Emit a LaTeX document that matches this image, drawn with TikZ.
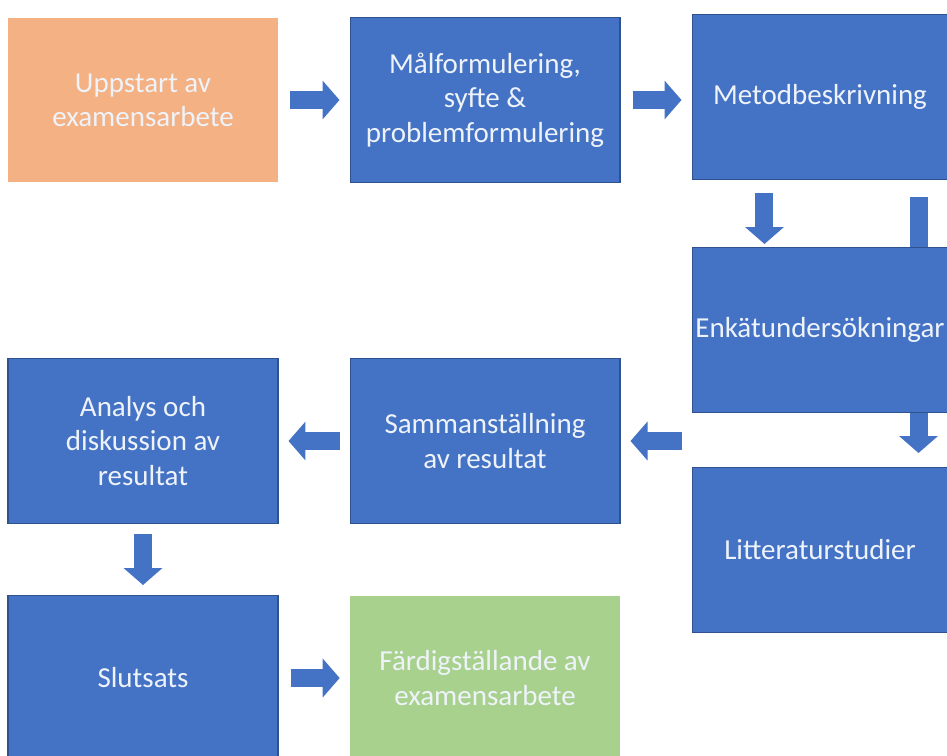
\documentclass[tikz,border=0pt]{standalone}
\usepackage{fontspec}
\setmainfont{Carlito}
\usetikzlibrary{arrows.meta}
\definecolor{boxblue}{HTML}{4472C4}
\definecolor{boxedge}{HTML}{2F528F}
\definecolor{startorange}{HTML}{F4B183}
\definecolor{endgreen}{HTML}{A9D18E}
\definecolor{boxtext}{HTML}{EEF3FA}

\begin{document}
\begin{tikzpicture}[
  x=0.02cm, y=-0.02cm,
  box/.style = {rectangle, minimum width=5.4cm, minimum height=3.3cm, align=center, inner sep=0pt,
                text=boxtext, font=\fontsize{16.5}{19.5}\selectfont},
  bluebox/.style = {box, fill=boxblue, draw=boxedge, line width=0.6pt},
  sidebox/.style = {bluebox, minimum width=5.12cm},
  fat/.style = {draw=boxblue, line width=0.36cm, -{Triangle[width=0.76cm, length=0.34cm]},
                shorten <=0.2cm, shorten >=0.2cm}
]
  \fill[white] (0,0) rectangle (947,755);
  \clip (0,0) rectangle (947,755);

  \node[box, fill=startorange] (start) at (143,100) {Uppstart av\\examensarbete};
  \node[bluebox] (mal) at (485,100) {Målformulering,\\syfte \&\\problemformulering};
  \node[sidebox] (metod) at (820,97) {Metodbeskrivning};
  \node[sidebox] (litt) at (820,550) {Litteraturstudier};

  % long arrow runs behind the survey box
  \draw[fat, shorten <=0.34cm, shorten >=0.28cm] ([xshift=-0.6cm]metod.south east) -- ([xshift=-0.6cm]litt.north east);

  \node[sidebox] (enkat) at (820,330) {Enkätundersökningar};
  \node[bluebox] (samman) at (485,441) {Sammanställning\\av resultat};
  \node[bluebox] (analys) at (143,441) {Analys och\\diskussion av\\resultat};
  \node[bluebox] (slut) at (143,678) {Slutsats};
  \node[box, fill=endgreen] (fardig) at (485,678) {Färdigställande av\\examensarbete};

  \draw[fat, shorten <=0.24cm] (start) -- (mal);
  \draw[fat, shorten <=0.24cm] (mal.east) -- (metod.west |- mal.east);
  \draw[fat, shorten <=0.26cm, shorten >=0.06cm] ([xshift=1.46cm]metod.south west) -- ([xshift=1.46cm]enkat.north west);
  \draw[fat] (samman.east -| enkat.west) -- (samman.east);
  \draw[fat] (samman) -- (analys);
  \draw[fat] (analys) -- (slut);
  \draw[fat, shorten <=0.24cm] (slut) -- (fardig);
\end{tikzpicture}
\end{document}
